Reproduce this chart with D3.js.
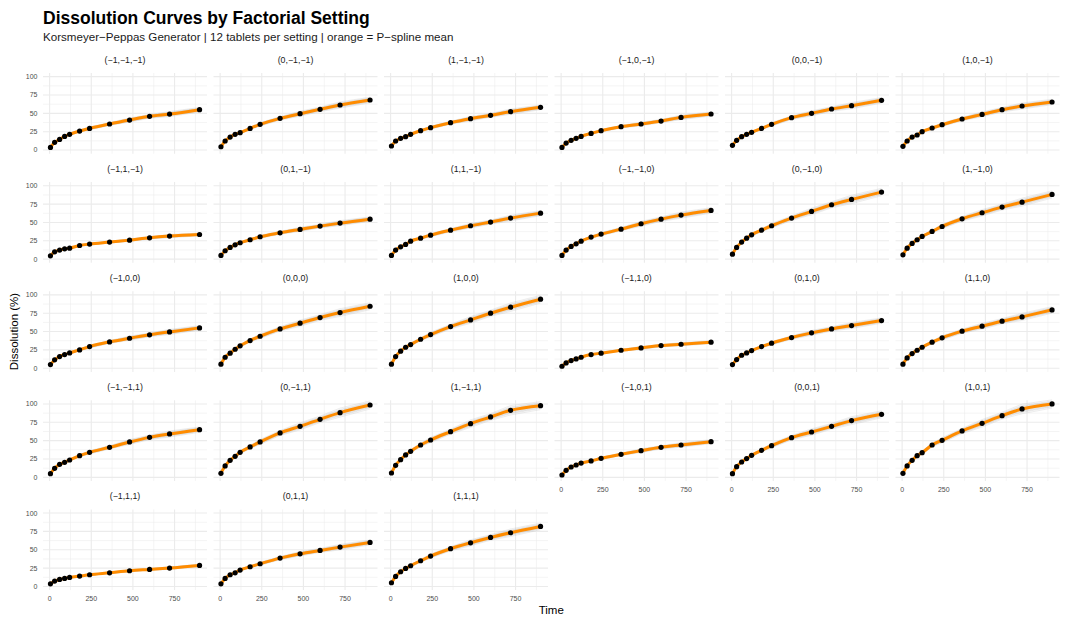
<!DOCTYPE html>
<html>
<head>
<meta charset="utf-8">
<script src="https://cdn.jsdelivr.net/npm/d3@7"></script>
<style>
  body { margin: 0; background: #fff; }
  text { font-family: "Liberation Sans", Arial, sans-serif; }
</style>
</head>
<body>
<div id="chart"></div>
<script>
// sampling times (min)
var timePoints = [5, 30, 60, 90, 120, 180, 240, 360, 480, 600, 720, 900];

// factorial settings, facet order
var settings = [
  "(−1,−1,−1)", "(0,−1,−1)", "(1,−1,−1)", "(−1,0,−1)", "(0,0,−1)", "(1,0,−1)",
  "(−1,1,−1)", "(0,1,−1)", "(1,1,−1)", "(−1,−1,0)", "(0,−1,0)", "(1,−1,0)",
  "(−1,0,0)", "(0,0,0)", "(1,0,0)", "(−1,1,0)", "(0,1,0)", "(1,1,0)",
  "(−1,−1,1)", "(0,−1,1)", "(1,−1,1)", "(−1,0,1)", "(0,0,1)", "(1,0,1)",
  "(−1,1,1)", "(0,1,1)", "(1,1,1)"
];

// mean dissolution (%) per setting
var meanDissolution = [
  [3.6, 10.5, 14.5, 18.6, 21.4, 25.9, 29.5, 35.5, 40.9, 45.9, 49.0, 55.0],
  [4.5, 12.3, 17.7, 21.4, 23.6, 29.5, 35.0, 43.2, 49.5, 55.5, 61.4, 68.2],
  [5.5, 12.3, 15.9, 18.2, 21.4, 26.4, 30.5, 37.3, 42.7, 47.3, 52.3, 58.2],
  [3.6, 9.5, 13.2, 15.9, 18.6, 22.7, 26.4, 31.8, 35.5, 39.5, 44.5, 49.1],
  [6.4, 13.2, 18.2, 21.4, 24.1, 29.5, 35.0, 44.1, 50.0, 55.9, 60.5, 67.7],
  [5.0, 12.3, 17.7, 20.5, 25.0, 30.0, 34.5, 42.3, 48.6, 55.0, 60.0, 65.5],
  [4.5, 10.0, 12.3, 14.1, 15.0, 18.6, 20.5, 23.2, 25.9, 29.1, 31.4, 33.6],
  [5.0, 11.4, 15.9, 19.5, 22.3, 26.4, 30.5, 35.9, 40.5, 45.0, 49.1, 54.5],
  [5.0, 12.3, 16.8, 20.0, 24.5, 28.6, 32.7, 39.5, 45.5, 50.5, 55.9, 62.7],
  [5.0, 12.3, 17.3, 20.9, 24.5, 30.0, 34.1, 40.9, 48.2, 54.5, 60.0, 66.4],
  [6.8, 15.9, 23.2, 28.6, 33.2, 39.5, 45.5, 55.9, 65.0, 74.1, 81.4, 91.4],
  [5.9, 15.0, 21.4, 26.4, 30.9, 37.7, 44.5, 55.0, 63.2, 70.9, 77.7, 88.2],
  [5.0, 11.4, 15.9, 18.6, 20.9, 25.0, 29.5, 35.9, 40.9, 45.5, 49.5, 55.0],
  [5.5, 15.0, 20.5, 25.9, 30.5, 37.7, 43.6, 53.6, 61.4, 69.1, 75.9, 84.5],
  [5.5, 15.9, 23.2, 28.6, 32.3, 39.5, 45.9, 56.8, 65.9, 75.0, 83.2, 94.1],
  [2.7, 7.3, 10.5, 12.7, 15.0, 18.6, 20.5, 24.5, 27.7, 30.9, 32.7, 35.5],
  [5.0, 11.8, 17.7, 20.9, 24.1, 29.5, 34.1, 41.8, 48.2, 53.6, 58.2, 65.0],
  [5.5, 14.1, 20.0, 24.5, 28.6, 35.5, 41.4, 50.5, 57.3, 64.1, 70.0, 79.5],
  [5.0, 12.3, 17.7, 20.5, 23.6, 29.5, 34.1, 40.9, 48.2, 54.5, 59.1, 65.0],
  [5.5, 15.5, 23.2, 28.6, 34.1, 41.4, 48.2, 60.5, 69.5, 79.1, 88.2, 98.6],
  [5.9, 16.4, 24.1, 30.5, 35.5, 44.1, 50.9, 62.3, 73.2, 82.3, 91.4, 97.7],
  [3.2, 9.5, 14.1, 16.8, 19.5, 22.3, 25.9, 31.4, 36.4, 40.9, 44.1, 48.6],
  [5.0, 14.5, 20.9, 25.5, 30.0, 36.8, 43.2, 54.1, 61.8, 69.5, 77.3, 85.9],
  [5.5, 15.5, 23.2, 29.5, 33.6, 44.1, 50.5, 63.2, 73.6, 84.1, 93.2, 100.0],
  [3.6, 7.3, 9.5, 10.9, 12.3, 14.1, 15.9, 18.6, 21.4, 23.2, 25.0, 28.6],
  [3.6, 10.9, 15.9, 18.6, 22.3, 26.8, 30.9, 38.6, 44.5, 49.1, 53.6, 60.0],
  [5.0, 13.6, 20.0, 24.5, 28.2, 35.0, 41.4, 51.4, 59.5, 66.8, 73.2, 81.8]
];

// relative spread of the 12 tablets around the mean (faint grey lines)
var tabletDev = [-0.07, -0.05, -0.04, -0.03, -0.02, -0.01, 0.01, 0.02, 0.03, 0.04, 0.05, 0.07];

var xTicks = [0, 250, 500, 750];
var xMinor = [125, 375, 625, 875];
var yTicks = [0, 25, 50, 75, 100];
var yMinor = [12.5, 37.5, 62.5, 87.5];

var width = 1069, height = 618;
var nCols = 6;
var gridLeft = 43, gridTop = 73;
var panelW = 164, panelH = 80.7;
var colPitch = 170.5, rowPitch = 109.1;

var svg = d3.select("#chart").append("svg")
  .attr("width", width)
  .attr("height", height);

var x = d3.scaleLinear().domain([-39.75, 944.75]).range([0, panelW]);
var y = d3.scaleLinear().domain([-5, 105]).range([panelH, 0]);

var line = d3.line()
  .x(function(d) { return x(d.t); })
  .y(function(d) { return y(d.v); });
var smooth = d3.line()
  .curve(d3.curveMonotoneX)
  .x(function(d) { return x(d.t); })
  .y(function(d) { return y(d.v); });

//////////////////////////// Titles ////////////////////////////
svg.append("text")
  .attr("x", gridLeft).attr("y", 24)
  .style("font-size", "17.5px").style("font-weight", "bold")
  .style("fill", "#000")
  .text("Dissolution Curves by Factorial Setting");

svg.append("text")
  .attr("x", gridLeft).attr("y", 40.5)
  .style("font-size", "11.6px")
  .style("fill", "#1a1a1a")
  .text("Korsmeyer−Peppas Generator | 12 tablets per setting | orange = P−spline mean");

var nRows = Math.ceil(settings.length / nCols);
var gridBottom = gridTop + (nRows - 1) * rowPitch + panelH;

svg.append("text")
  .attr("x", gridLeft + ((nCols - 1) * colPitch + panelW) / 2)
  .attr("y", 614)
  .attr("text-anchor", "middle")
  .style("font-size", "11.5px")
  .style("fill", "#000")
  .text("Time");

svg.append("text")
  .attr("transform", "translate(18," + ((gridTop + gridBottom) / 2) + ") rotate(-90)")
  .attr("text-anchor", "middle")
  .style("font-size", "11.5px")
  .style("fill", "#000")
  .text("Dissolution (%)");

//////////////////////////// Panels ////////////////////////////
settings.forEach(function(label, i) {
  var col = i % nCols, row = Math.floor(i / nCols);
  var g = svg.append("g")
    .attr("transform", "translate(" + (gridLeft + col * colPitch) + "," + (gridTop + row * rowPitch) + ")");

  // grid
  g.selectAll(".xminor").data(xMinor).enter().append("line")
    .attr("x1", function(d) { return x(d); }).attr("x2", function(d) { return x(d); })
    .attr("y1", 0).attr("y2", panelH)
    .style("stroke", "#ebebeb").style("stroke-width", 0.55);
  g.selectAll(".yminor").data(yMinor).enter().append("line")
    .attr("y1", function(d) { return y(d); }).attr("y2", function(d) { return y(d); })
    .attr("x1", 0).attr("x2", panelW)
    .style("stroke", "#ebebeb").style("stroke-width", 0.55);
  g.selectAll(".xmajor").data(xTicks).enter().append("line")
    .attr("x1", function(d) { return x(d); }).attr("x2", function(d) { return x(d); })
    .attr("y1", 0).attr("y2", panelH)
    .style("stroke", "#ebebeb").style("stroke-width", 1.1);
  g.selectAll(".ymajor").data(yTicks).enter().append("line")
    .attr("y1", function(d) { return y(d); }).attr("y2", function(d) { return y(d); })
    .attr("x1", 0).attr("x2", panelW)
    .style("stroke", "#ebebeb").style("stroke-width", 1.1);

  // strip
  g.append("text")
    .attr("x", panelW / 2).attr("y", -10)
    .attr("text-anchor", "middle")
    .style("font-size", "8.8px")
    .style("fill", "#1a1a1a")
    .text(label);

  var mean = timePoints.map(function(t, k) { return { t: t, v: meanDissolution[i][k] }; });

  // individual tablets
  tabletDev.forEach(function(dv) {
    var pts = mean.map(function(p, k) {
      var w = dv * (k % 2 === 0 ? 1 : 0.8);
      return { t: p.t, v: p.v * (1 + w) };
    });
    g.append("path")
      .attr("d", line(pts))
      .style("fill", "none")
      .style("stroke", "#9a9a9a")
      .style("stroke-opacity", 0.3)
      .style("stroke-width", 0.6);
  });

  // mean curve
  g.append("path")
    .attr("d", smooth(mean))
    .style("fill", "none")
    .style("stroke", "#FF8C00")
    .style("stroke-width", 3);

  g.selectAll(".pt").data(mean).enter().append("circle")
    .attr("cx", function(d) { return x(d.t); })
    .attr("cy", function(d) { return y(d.v); })
    .attr("r", 2.6)
    .style("fill", "#000");

  // y labels only on first column
  if (col === 0) {
    g.selectAll(".ylab").data(yTicks).enter().append("text")
      .attr("x", -5.5)
      .attr("y", function(d) { return y(d); })
      .attr("dy", "0.35em")
      .attr("text-anchor", "end")
      .style("font-size", "7px")
      .style("fill", "#4d4d4d")
      .text(function(d) { return d; });
  }
  // x labels on the lowest panel of each column
  if (i + nCols >= settings.length) {
    g.selectAll(".xlab").data(xTicks).enter().append("text")
      .attr("x", function(d) { return x(d); })
      .attr("y", panelH + 11)
      .attr("text-anchor", "middle")
      .style("font-size", "7px")
      .style("fill", "#4d4d4d")
      .text(function(d) { return d; });
  }
});
</script>
</body>
</html>
